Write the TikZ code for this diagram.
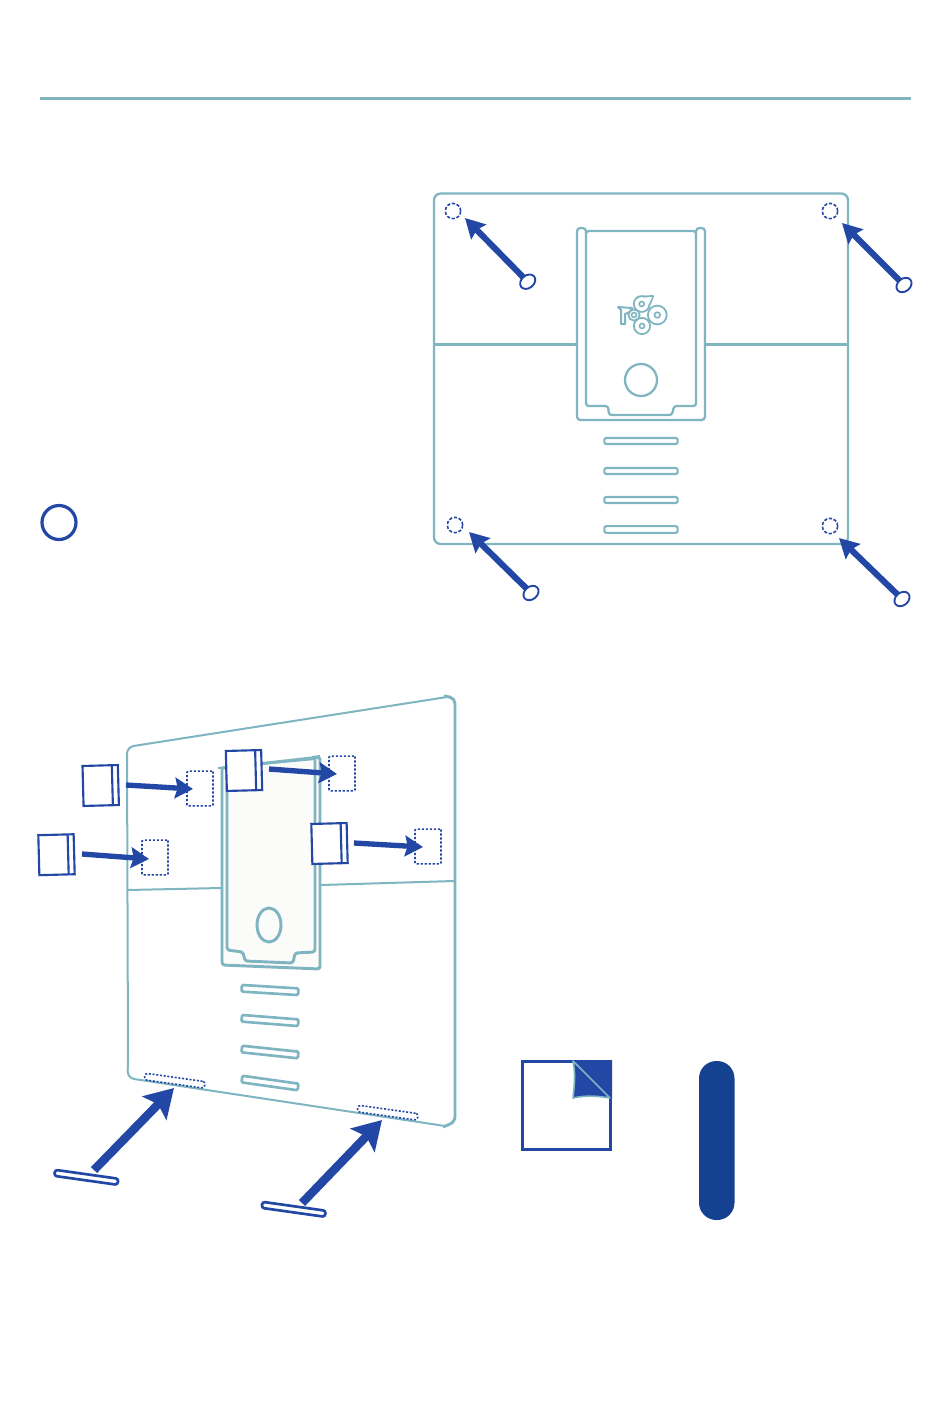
\documentclass[tikz,border=0pt]{standalone}
\usetikzlibrary{arrows.meta,calc,shapes.geometric}
\definecolor{tealline}{HTML}{7FB4C1}
\definecolor{bluemark}{HTML}{2347A5}
\definecolor{bluepill}{HTML}{154191}
\definecolor{holderfill}{HTML}{FBFBF9}
\tikzset{
  panelline/.style={draw=tealline,line width=1.7pt,line join=round},
  thinpanel/.style={draw=tealline,line width=1.5pt,line join=round},
  heavypanel/.style={draw=tealline,line width=2.2pt,line join=round},
  bigarrow/.style={draw=bluemark,line width=4.6pt,-{Stealth[length=14.5pt,width=15.5pt,inset=2pt]}},
  sidearrow/.style={draw=bluemark,line width=4pt,-{Stealth[length=13.5pt,width=15.5pt,inset=2pt]}},
  longarrow/.style={draw=bluemark,line width=6.4pt,-{Stealth[length=21pt,width=25pt,inset=4pt]}},
  dothole/.style={circle,draw=bluemark,line width=1.2pt,dash pattern=on 2.4pt off 1.3pt,minimum size=11.5pt,inner sep=0pt},
  footoval/.style={ellipse,draw=bluemark,line width=1.4pt,fill=white,minimum width=12.5pt,minimum height=9.5pt,inner sep=0pt,rotate=40},
  slotbar/.style={rectangle,rounded corners=1.5pt,draw=tealline,line width=1.6pt,minimum width=55pt,minimum height=4.5pt,inner sep=0pt},
  dotbox/.style={rectangle,rounded corners=.8pt,draw=bluemark,line width=1.2pt,dash pattern=on 1.6pt off 1.4pt,minimum width=19.5pt,minimum height=26pt,inner sep=0pt},
  padbox/.style={rectangle,draw=bluemark,line width=1.6pt,fill=white,minimum width=26.5pt,minimum height=30pt,inner sep=0pt,outer sep=0pt,rotate=1.5},
  dotstrip/.style={rectangle,rounded corners=2pt,draw=bluemark,line width=1.2pt,dash pattern=on 1.5pt off 1.3pt,minimum width=45.5pt,minimum height=5pt,inner sep=0pt,rotate=-8},
  stripfoot/.style={rectangle,rounded corners=2pt,draw=bluemark,line width=2pt,fill=white,minimum width=48pt,minimum height=4.6pt,inner sep=0pt,rotate=-8},
  angledslot/.style={rectangle,rounded corners=1pt,draw=tealline,line width=2pt,minimum width=42.5pt,minimum height=5pt,inner sep=0pt},
}
\begin{document}
\begin{tikzpicture}[x=0.75pt,y=-0.75pt]
\useasboundingbox (0,0) rectangle (950,1425);
% rule
\coordinate (ruleL) at (40,98.5);
\coordinate (ruleR) at (911,98.5);
\draw[draw=tealline,line width=2.4pt] (ruleL) -- (ruleR);
% marker circle
\node[circle,draw=bluemark,line width=2.4pt,minimum size=25.5pt,inner sep=0pt] (marker) at (59,522.5) {};
% back panel
\draw[panelline,rounded corners=5pt] (434,193.5) rectangle (848,544);
\draw[panelline] (434,344.5) -- (577,344.5);
\draw[panelline] (705,344.5) -- (848,344.5);
\draw[panelline,rounded corners=2.5pt] (586,234) -- (586,228) -- (577,228) -- (577,420) -- (705,420) -- (705,228) -- (696,228) -- (696,234);
\draw[panelline,rounded corners=2pt] (586,231) -- (586,406) -- (608,406) -- (609,415) -- (672,415) -- (674,406) -- (696,406) -- (696,231) -- cycle;
\node[circle,panelline,minimum size=24pt,inner sep=0pt] (socket) at (641,380) {};
% logo
\begin{scope}[draw=tealline,line width=1.5pt]
  \draw[line join=round] (638,297) -- (653,296) -- (650,304) -- cycle;
  \draw (641.7,304) circle[radius=7.8];
  \draw (634,315) circle[radius=5.5];
  \draw (642,326) circle[radius=8];
  \draw (657.3,315) circle[radius=9.3];
  \draw[line join=round] (618,307) -- (621,310) -- (621,324) -- (625,324) -- (625,314) -- (630,312) -- (632,308) -- cycle;
  \fill[white] (639,298) -- (652,297) -- (649,304) -- cycle;
  \fill[white] (641.7,304) circle[radius=6.8];
  \fill[white] (634,315) circle[radius=4.5];
  \fill[white] (642,326) circle[radius=7];
  \fill[white] (657.3,315) circle[radius=8.3];
  \draw[line width=1.2pt] (641.7,304) circle[radius=2.5];
  \draw[line width=1.2pt] (634,315) circle[radius=2.5];
  \draw[line width=1.2pt] (642,326) circle[radius=2.5];
  \draw[line width=1.2pt] (657.3,315) circle[radius=2.8];
\end{scope}
\node[slotbar] (slotA) at (641,441) {};
\node[slotbar] (slotB) at (641,471) {};
\node[slotbar] (slotC) at (641,500) {};
\node[slotbar,minimum height=5pt] (slotD) at (641,529.5) {};
% holes and feet
\node[dothole] (holeA) at (453,211) {};
\node[dothole] (holeB) at (830,211) {};
\node[dothole] (holeC) at (455,525) {};
\node[dothole] (holeD) at (830,526) {};
\coordinate (tipA) at (465,218);
\coordinate (tipB) at (842,223);
\coordinate (tipC) at (469,532);
\coordinate (tipD) at (839,538);
\coordinate (tailA) at (524,278);
\coordinate (tailB) at (900,281);
\coordinate (tailC) at (527,589);
\coordinate (tailD) at (898,595);
\draw[bigarrow] (tailA) -- (tipA);
\draw[bigarrow] (tailB) -- (tipB);
\draw[bigarrow] (tailC) -- (tipC);
\draw[bigarrow] (tailD) -- (tipD);
\node[footoval] (footA) at (527.7,281.7) {};
\node[footoval] (footB) at (904,285) {};
\node[footoval] (footC) at (531,593) {};
\node[footoval] (footD) at (902,599) {};
% lower panel (perspective)
\draw[thinpanel,rounded corners=5pt] (128,1060) -- (127.5,1078) -- (445,1126);
\draw[thinpanel,rounded corners=5pt] (128,1060) -- (127,747) -- (447,697);
\draw[heavypanel,rounded corners=4pt] (444,696) -- (455,698) -- (455,1122) -- (443,1127);
\draw[thinpanel] (128,890) -- (221,888);
\draw[thinpanel] (321,885) -- (454,881);
% holder
\draw[heavypanel,fill=holderfill,rounded corners=2pt] (222,768) -- (222,965) -- (320,969) -- (320,757) -- (222,768);
\draw[heavypanel,rounded corners=2pt] (227,768) -- (227,950) -- (243,952) -- (245,961) -- (293,963) -- (295,953) -- (315,952) -- (315,757);
\draw[thinpanel] (218,768) -- (315,759);
\draw[thinpanel] (312,757) -- (320,756);
\node[ellipse,heavypanel,minimum width=18pt,minimum height=25.5pt,inner sep=0pt] (socketB) at (269,925) {};
% angled slots
\node[angledslot,rotate=-3.5] (pslotA) at (270,990) {};
\node[angledslot,rotate=-4.5] (pslotB) at (270,1020.5) {};
\node[angledslot,rotate=-6] (pslotC) at (270,1052) {};
\node[angledslot,rotate=-8] (pslotD) at (270,1083) {};
% dotted targets
\node[dotbox] (tgtA) at (200,788.5) {};
\node[dotbox] (tgtB) at (155,857.5) {};
\node[dotbox] (tgtC) at (342,773.5) {};
\node[dotbox] (tgtD) at (428,846.5) {};
% pads
\node[padbox] (padA) at (100.7,785.5) {};
\node[padbox] (padB) at (56.5,854.7) {};
\node[padbox] (padC) at (244,770.5) {};
\node[padbox] (padD) at (329.5,843.5) {};
\foreach \p in {padA,padB,padC,padD}
  \draw[draw=bluemark,line width=1.6pt] ($(\p.north east)!.17!(\p.north west)$) -- ($(\p.south east)!.17!(\p.south west)$);
\coordinate (sA) at (126,785); \coordinate (eA) at (193,789);
\coordinate (sB) at (82,854);  \coordinate (eB) at (149,859);
\coordinate (sC) at (269,769); \coordinate (eC) at (337,774);
\coordinate (sD) at (354,843); \coordinate (eD) at (423,847);
\draw[sidearrow] (sA) -- (eA);
\draw[sidearrow] (sB) -- (eB);
\draw[sidearrow] (sC) -- (eC);
\draw[sidearrow] (sD) -- (eD);
% bottom strips
\node[dotstrip] (stripA) at (174.7,1080.7) {};
\node[dotstrip] (stripB) at (387.7,1112.7) {};
\coordinate (tipE) at (174,1088);
\coordinate (tipF) at (382,1120);
\coordinate (tailE) at (94,1170);
\coordinate (tailF) at (302,1203);
\draw[longarrow] (tailE) -- (tipE);
\draw[longarrow] (tailF) -- (tipF);
\node[stripfoot] (footE) at (86.3,1177.3) {};
\node[stripfoot] (footF) at (293.7,1209.3) {};
% sticker
\draw[draw=bluemark,line width=2.2pt,fill=white] (522.5,1061.5) rectangle (610.5,1149.5);
\fill[bluemark] (573,1060) -- (612,1060) -- (612,1098) -- (610,1098) -- cycle;
\draw[draw=tealline,line width=1.2pt,fill=bluemark,line join=round] (573,1061) .. controls (576,1075) and (574,1088) .. (573,1098) .. controls (586,1095) and (598,1096) .. (610,1098) -- cycle;
% pill
\fill[bluepill,rounded corners=13pt] (699,1061) rectangle (734.5,1220);
\end{tikzpicture}
\end{document}
